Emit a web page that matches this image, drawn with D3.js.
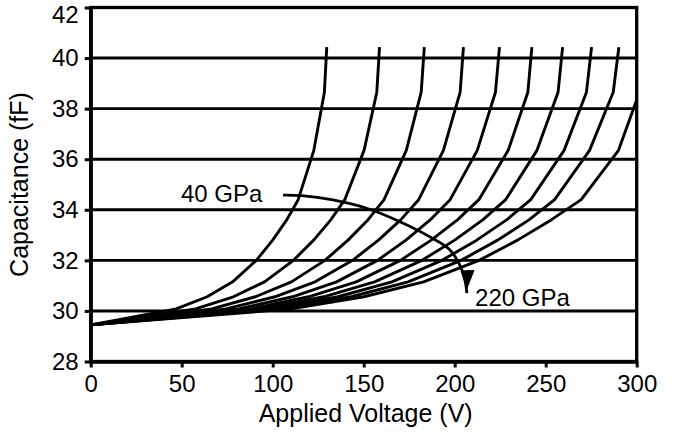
<!DOCTYPE html>
<html>
<head>
<meta charset="utf-8">
<script src="https://cdn.jsdelivr.net/npm/d3@7"></script>
<style>
  html, body { margin: 0; padding: 0; background: #fff; }
  svg { display: block; font-family: "Liberation Sans", Arial, Helvetica, sans-serif; }
</style>
</head>
<body>
<svg id="chart" width="677" height="432"></svg>
<script>
// ---- data ----
const voltTicks = [0, 50, 100, 150, 200, 250, 300];
const capTicks = [28, 30, 32, 34, 36, 38, 40, 42];
const gridLevels = [30, 32, 34, 36, 38, 40];
const moduli = ["40 GPa", "60 GPa", "80 GPa", "100 GPa", "120 GPa", "140 GPa", "160 GPa", "180 GPa", "200 GPa", "220 GPa"];
// capacitance (fF) at each vertex, shared by all curves
const capLevels = [29.45, 30.08, 30.56, 31.15, 32.0, 32.8, 33.6, 34.4, 36.35, 38.65, 40.43];
// applied voltage (V) at each vertex, one array per Young's modulus
const v40  = [0, 47.0, 64.0, 78.0, 91.0, 100.0, 107.7, 114.0, 122.6, 128.4, 129.7];
const v60  = [0, 57.6, 78.4, 95.5, 111.4, 122.5, 131.9, 139.6, 150.2, 157.2, 158.7];
const v80  = [0, 66.5, 90.5, 110.3, 128.7, 141.4, 152.3, 161.2, 173.4, 181.6, 183.3];
const v100 = [0, 74.3, 101.2, 123.3, 143.9, 158.1, 170.3, 180.2, 193.8, 203.0, 204.8];
const v120 = [0, 81.4, 110.9, 135.1, 157.6, 173.2, 186.5, 197.5, 212.4, 222.4, 224.6];
const v140 = [0, 87.9, 119.7, 145.9, 170.2, 187.1, 201.5, 213.3, 229.4, 240.2, 242.4];
const v160 = [0, 94.0, 128.0, 156.0, 182.0, 200.0, 215.4, 228.0, 245.2, 256.8, 259.3];
const v180 = [0, 99.7, 135.8, 165.5, 193.0, 212.1, 228.5, 241.8, 260.1, 272.4, 275.2];
const v200 = [0, 105.1, 143.1, 174.4, 203.5, 223.6, 240.8, 254.9, 274.1, 287.1, 290.2];
const v220 = [0, 110.2, 150.1, 182.9, 213.4, 234.5, 253.0, 269.5, 290.0, 301.5, 304.2];
const seriesV = [v40, v60, v80, v100, v120, v140, v160, v180, v200, v220];
// annotation arrow (in data units)
const arrowV = [105.7, 115.9, 133.1, 151.6, 169.9, 186.4, 197.4, 204.6, 206.7];
const arrowC = [34.58, 34.56, 34.39, 34.06, 33.53, 32.93, 32.41, 31.5, 30.7];
const headV = [203.5, 210.6, 206.7];
const headC = [31.58, 31.60, 30.9];

// ---- chart ----
const svg = d3.select("#chart");
const W = 677, H = 432;
svg.append("rect").attr("width", W).attr("height", H).attr("fill", "#fff");

const x = d3.scaleLinear().domain([0, 300]).range([90.7, 636.7]);
const y = d3.scaleLinear().domain([28, 42]).range([361.5, 7.5]);

svg.append("defs").append("clipPath").attr("id", "plotclip")
  .append("rect")
  .attr("x", x(0)).attr("y", y(42) - 10)
  .attr("width", x(300) - x(0)).attr("height", y(28) - y(42) + 10);

// grid
svg.append("g").selectAll("line").data(gridLevels).join("line")
  .attr("x1", x(0)).attr("x2", x(300))
  .attr("y1", d => y(d)).attr("y2", d => y(d))
  .attr("stroke", "#000").attr("stroke-width", 2.9);

// frame
svg.append("rect")
  .attr("x", x(0)).attr("y", y(42))
  .attr("width", x(300) - x(0)).attr("height", y(28) - y(42))
  .attr("fill", "none").attr("stroke", "#000").attr("stroke-width", 3.3);

// axes
const fontSize = 24;
const gx = svg.append("g").attr("transform", `translate(0,${y(28)})`)
  .call(d3.axisBottom(x).tickValues(voltTicks).tickSize(6).tickSizeOuter(0).tickPadding(7));
const gy = svg.append("g").attr("transform", `translate(${x(0)},0)`)
  .call(d3.axisLeft(y).tickValues(capTicks).tickSize(6).tickSizeOuter(0).tickPadding(6));
[gx, gy].forEach(g => {
  g.select(".domain").attr("stroke", "#000").attr("stroke-width", 3.3);
  g.selectAll(".tick line").attr("stroke", "#000").attr("stroke-width", 3);
  g.selectAll(".tick text").attr("fill", "#000")
    .style("font-size", fontSize + "px")
    .style("font-family", '"Liberation Sans", Arial, Helvetica, sans-serif');
});
gy.selectAll(".tick").filter(d => d === 42).select("text").attr("y", 7);

// curves
const line = d3.line()
  .x(d => x(d[0]))
  .y(d => y(d[1]));
svg.append("g").attr("clip-path", "url(#plotclip)")
  .selectAll("path").data(seriesV).join("path")
  .attr("d", vs => line(vs.map((v, i) => [v, capLevels[i]])))
  .attr("fill", "none").attr("stroke", "#000").attr("stroke-width", 2.9)
  .attr("stroke-linejoin", "round");

// annotation arrow
const arrowLine = d3.line().x(d => x(d[0])).y(d => y(d[1])).curve(d3.curveCatmullRom);
svg.append("path")
  .attr("d", arrowLine(arrowV.map((v, i) => [v, arrowC[i]])))
  .attr("fill", "none").attr("stroke", "#000").attr("stroke-width", 2.8);
svg.append("path")
  .attr("d", d3.line().x(d => x(d[0])).y(d => y(d[1]))(headV.map((v, i) => [v, headC[i]])) + "Z")
  .attr("fill", "#000").attr("stroke", "#000").attr("stroke-width", 1);

svg.append("text").attr("x", x(94.3)).attr("y", y(34.3))
  .attr("text-anchor", "end").style("font-size", fontSize + "px").text(moduli[0]);
svg.append("text").attr("x", x(211.2)).attr("y", y(30.19))
  .attr("text-anchor", "start").style("font-size", fontSize + "px").text(moduli[9]);

// axis titles
svg.append("text").attr("x", (x(0) + x(300)) / 2 + 2).attr("y", 421.5)
  .attr("text-anchor", "middle").style("font-size", "25px").text("Applied Voltage (V)");
svg.append("text").attr("transform", `translate(28,${(y(42) + y(28)) / 2})rotate(-90)`)
  .attr("text-anchor", "middle").style("font-size", "25px").text("Capacitance (fF)");
</script>
</body>
</html>
